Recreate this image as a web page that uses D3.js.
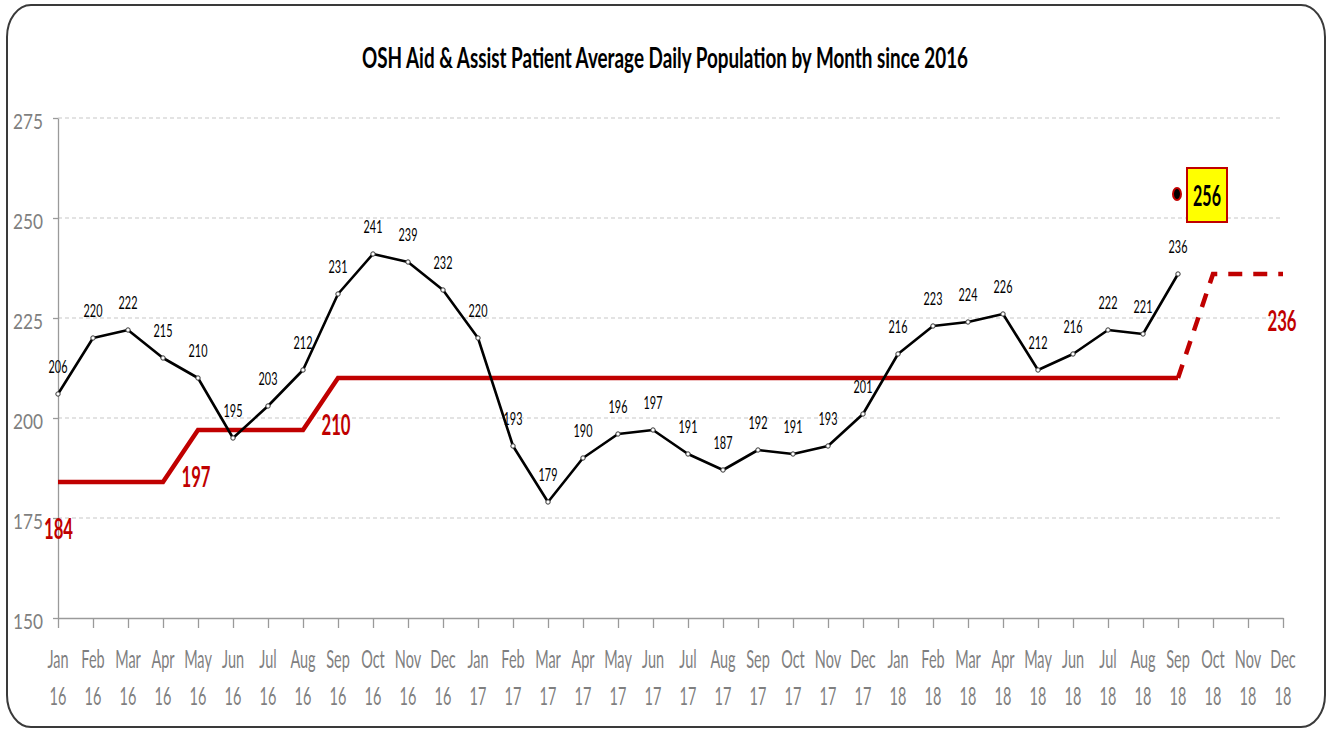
<!DOCTYPE html>
<html><head><meta charset="utf-8">
<script src="https://cdn.jsdelivr.net/npm/d3@7"></script>
<style>
html,body{margin:0;padding:0;background:#fff;}
svg text{font-family:Lato,"Open Sans","Liberation Sans",sans-serif;}
</style></head>
<body>
<svg id="chart" width="1329" height="731"></svg>
<script>
// ---------------- DATA ----------------
const titleText = "OSH Aid & Assist Patient Average Daily Population by Month since 2016";
const categories = [
 "Jan 16","Feb 16","Mar 16","Apr 16","May 16","Jun 16","Jul 16","Aug 16","Sep 16","Oct 16","Nov 16","Dec 16",
 "Jan 17","Feb 17","Mar 17","Apr 17","May 17","Jun 17","Jul 17","Aug 17","Sep 17","Oct 17","Nov 17","Dec 17",
 "Jan 18","Feb 18","Mar 18","Apr 18","May 18","Jun 18","Jul 18","Aug 18","Sep 18","Oct 18","Nov 18","Dec 18"
];
const populationValues = [206,220,222,215,210,195,203,212,231,241,239,232,
                          220,193,179,190,196,197,191,187,192,191,193,201,
                          216,223,224,226,212,216,222,221,236];
const capacityValues = [184,184,184,184,197,197,197,197,210,210,210,210,
                        210,210,210,210,210,210,210,210,210,210,210,210,
                        210,210,210,210,210,210,210,210,210,236,236,236];
const capacityLabels = [
  {cat:"Jan 16", value:184},
  {cat:"May 16", value:197},
  {cat:"Sep 16", value:210},
  {cat:"Dec 18", value:236}
];
const projectedPoint = {cat:"Sep 18", value:256};
const yTicks = [150,175,200,225,250,275];
const dashedFrom = "Sep 18";

// ---------------- LAYOUT ----------------
const svg = d3.select("#chart");
const plot = {left:58, right:1283, top:118, bottom:618};
const red = "#c00000";
const grey = "#7f7f7f";

const x = d3.scalePoint().domain(categories).range([plot.left, plot.right]);
const y = d3.scaleLinear().domain([150,275]).range([plot.bottom, plot.top]);

function digitScale(fs, weight, targetW){
  const t = svg.append("text").attr("font-size",fs).attr("font-weight",weight).text("0000000000");
  const w = t.node().getComputedTextLength()/10;
  t.remove();
  return targetW / w;
}
function addText(parent, px, py, str, o){
  return parent.append("text")
    .attr("transform", `translate(${px},${py}) scale(${o.sx},1)`)
    .attr("text-anchor", o.anchor || "middle")
    .attr("dominant-baseline", "central")
    .attr("font-size", o.fs)
    .attr("font-weight", o.weight || "normal")
    .attr("fill", o.fill || "#000")
    .text(str);
}

// frame
svg.append("rect").attr("x",7).attr("y",5).attr("width",1318).attr("height",722)
  .attr("rx",24).attr("ry",32).attr("fill","#fff").attr("stroke","#3a3a3a").attr("stroke-width",2);

// title
svg.append("text").attr("x",665).attr("y",56).attr("text-anchor","middle")
  .attr("dominant-baseline","central")
  .attr("font-size",29).attr("font-weight","bold").attr("fill","#000")
  .attr("textLength",606).attr("lengthAdjust","spacingAndGlyphs")
  .text(titleText);

// gridlines
svg.append("g").selectAll("line").data(yTicks.filter(d=>d>150)).join("line")
  .attr("x1",plot.left).attr("x2",plot.right)
  .attr("y1",d=>y(d)).attr("y2",d=>y(d))
  .attr("stroke","#c8c8c8").attr("stroke-width",1.2).attr("stroke-dasharray","4,3");

// y axis
const yAxisG = svg.append("g").attr("transform",`translate(${plot.left},0)`)
  .call(d3.axisLeft(y).tickValues(yTicks).tickSize(5).tickSizeOuter(0));
yAxisG.select(".domain").attr("stroke","#9a9a9a").attr("stroke-width",1.3);
yAxisG.selectAll(".tick line").attr("stroke","#9a9a9a").attr("stroke-width",1.3);
const ySx = digitScale(21, "normal", 10);
yAxisG.selectAll(".tick text")
  .attr("x",0).attr("dy",null)
  .attr("transform",`translate(-15,2) scale(${ySx},1)`)
  .attr("dominant-baseline","central")
  .attr("font-size",21).attr("fill",grey).attr("font-family",null);

// x axis
const xAxisG = svg.append("g").attr("transform",`translate(0,${plot.bottom})`)
  .call(d3.axisBottom(x).tickSize(10).tickSizeOuter(0).tickFormat(()=>""));
xAxisG.select(".domain").attr("stroke","#9a9a9a").attr("stroke-width",1.3);
xAxisG.selectAll(".tick line").attr("stroke","#9a9a9a").attr("stroke-width",1.3);
const xSx = digitScale(25, "normal", 8.4);
const xLab = svg.append("g");
categories.forEach(c=>{
  const [m, yr] = c.split(" ");
  addText(xLab, x(c), 658, m, {fs:25, sx:xSx, fill:grey});
  addText(xLab, x(c), 695, yr, {fs:25, sx:xSx, fill:grey});
});

// capacity line (solid then dashed)
const capData = categories.map((c,i)=>({cat:c, value:capacityValues[i]}));
const splitIdx = categories.indexOf(dashedFrom);
const line = d3.line().x(d=>x(d.cat)).y(d=>y(d.value));
svg.append("path").datum(capData.slice(0, splitIdx+1)).attr("d",line)
  .attr("fill","none").attr("stroke",red).attr("stroke-width",4.5).attr("stroke-linejoin","miter");
svg.append("path").datum(capData.slice(splitIdx)).attr("d",line)
  .attr("fill","none").attr("stroke",red).attr("stroke-width",4.5).attr("stroke-dasharray","14,11");

// capacity labels
const rSx = digitScale(29, "bold", 9.7);
const capOffsets = {"Jan 16":[0.5,46], "May 16":[-2,46], "Sep 16":[-2,46], "Dec 18":[-1,46]};
capacityLabels.forEach(d=>{
  const off = capOffsets[d.cat];
  addText(svg, x(d.cat)+off[0], y(d.value)+off[1], d.value, {fs:29, sx:rSx, weight:"bold", fill:red});
});

// population line
const popData = populationValues.map((v,i)=>({cat:categories[i], value:v}));
svg.append("path").datum(popData).attr("d",line)
  .attr("fill","none").attr("stroke","#000").attr("stroke-width",2.6).attr("stroke-linejoin","round");
svg.append("g").selectAll("circle").data(popData).join("circle")
  .attr("cx",d=>x(d.cat)).attr("cy",d=>y(d.value)).attr("r",2.2)
  .attr("fill","#fff").attr("stroke","#333").attr("stroke-width",1);
const dSx = digitScale(17.5, "normal", 6.3);
const dl = svg.append("g");
popData.forEach(d=>{
  addText(dl, x(d.cat), y(d.value)-28, d.value, {fs:17.5, sx:dSx, fill:"#000"});
});

// projected point
svg.append("ellipse").attr("cx",x(projectedPoint.cat)-1).attr("cy",y(projectedPoint.value))
  .attr("rx",4).attr("ry",6).attr("fill","#000").attr("stroke",red).attr("stroke-width",2);
const bx = x(projectedPoint.cat)+29, by = y(projectedPoint.value)+1;
svg.append("rect").attr("x",bx-20).attr("y",by-27).attr("width",40).attr("height",54)
  .attr("fill","#ffff00").attr("stroke",red).attr("stroke-width",2);
const pSx = digitScale(28, "bold", 9.3);
addText(svg, bx, by, projectedPoint.value, {fs:28, sx:pSx, weight:"bold", fill:"#000"});
</script>
</body></html>
